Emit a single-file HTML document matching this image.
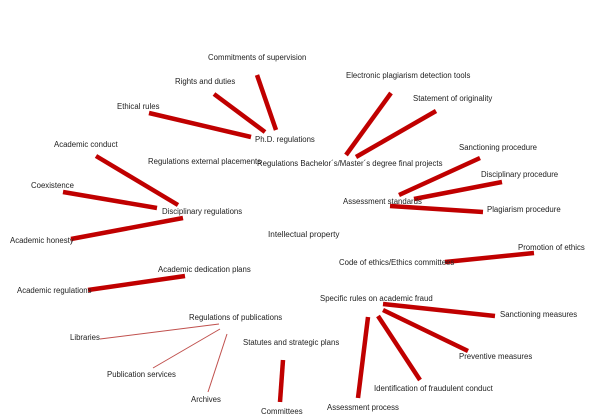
<!DOCTYPE html>
<html><head><meta charset="utf-8"><style>
body{margin:0;background:#fff;width:600px;height:418px;overflow:hidden}
svg{display:block}
text{font-family:"Liberation Sans",sans-serif;font-size:7.8px;fill:#222;dominant-baseline:middle}
.t{stroke:#c00000;stroke-width:4.5}
.n{stroke:#c0504d;stroke-width:1}
</style></head><body>
<svg width="600" height="418" viewBox="0 0 600 418">
<g class="t">
<line x1="257" y1="75" x2="276" y2="130"/>
<line x1="214" y1="94" x2="265" y2="132"/>
<line x1="149" y1="113" x2="251" y2="137"/>
<line x1="96" y1="156" x2="178" y2="205"/>
<line x1="63" y1="192" x2="157" y2="208"/>
<line x1="71" y1="239" x2="183" y2="218"/>
<line x1="391" y1="93" x2="346" y2="155"/>
<line x1="436" y1="111" x2="356" y2="157"/>
<line x1="480" y1="158" x2="399" y2="195"/>
<line x1="502" y1="182" x2="414" y2="199"/>
<line x1="390" y1="206" x2="483" y2="212"/>
<line x1="534" y1="253" x2="445" y2="262"/>
<line x1="88" y1="290" x2="185" y2="276"/>
<line x1="383" y1="304" x2="495" y2="316"/>
<line x1="383" y1="310" x2="468" y2="351"/>
<line x1="378" y1="316" x2="420" y2="380"/>
<line x1="368" y1="317" x2="358" y2="398"/>
<line x1="283" y1="360" x2="280" y2="402"/>
</g>
<g class="n">
<line x1="100" y1="339" x2="219" y2="324"/>
<line x1="153" y1="368" x2="220" y2="329"/>
<line x1="208" y1="392" x2="227" y2="334"/>
</g>
<text x="208" y="58">Commitments of supervision</text>
<text x="175" y="82">Rights and duties</text>
<text x="117" y="107">Ethical rules</text>
<text x="255" y="140">Ph.D. regulations</text>
<text x="54" y="145">Academic conduct</text>
<text x="148" y="162">Regulations external placements</text>
<text x="31" y="186">Coexistence</text>
<text x="162" y="212">Disciplinary regulations</text>
<text x="10" y="241">Academic honesty</text>
<text x="268" y="235" style="font-size:8.2px">Intellectual property</text>
<text x="346" y="76">Electronic plagiarism detection tools</text>
<text x="413" y="99">Statement of originality</text>
<text x="257" y="164">Regulations Bachelor´s/Master´s degree final projects</text>
<text x="459" y="148">Sanctioning procedure</text>
<text x="481" y="175">Disciplinary procedure</text>
<text x="343" y="202">Assessment standards</text>
<text x="487" y="210">Plagiarism procedure</text>
<text x="518" y="248">Promotion of ethics</text>
<text x="339" y="263">Code of ethics/Ethics committees</text>
<text x="158" y="270">Academic dedication plans</text>
<text x="17" y="291">Academic regulations</text>
<text x="320" y="299">Specific rules on academic fraud</text>
<text x="189" y="318">Regulations of publications</text>
<text x="70" y="338">Libraries</text>
<text x="243" y="343">Statutes and strategic plans</text>
<text x="500" y="315">Sanctioning measures</text>
<text x="459" y="357">Preventive measures</text>
<text x="107" y="375">Publication services</text>
<text x="374" y="389">Identification of fraudulent conduct</text>
<text x="191" y="400">Archives</text>
<text x="327" y="408">Assessment process</text>
<text x="261" y="412">Committees</text>
</svg>
</body></html>
